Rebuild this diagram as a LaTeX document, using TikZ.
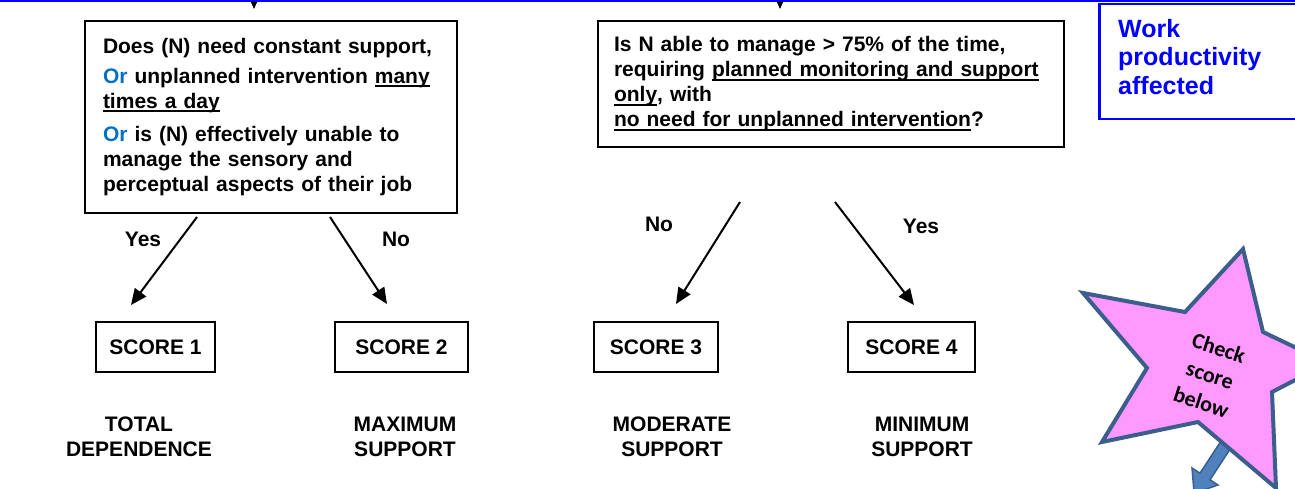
\documentclass[tikz,border=0pt]{standalone}
\usepackage{fontspec}
\setmainfont{Liberation Sans}
\newfontfamily\calibrifont{Carlito}
\usetikzlibrary{arrows.meta,calc}
\definecolor{orblue}{HTML}{0070C0}
\definecolor{starpink}{HTML}{FF99FF}
\definecolor{starline}{HTML}{3B5E8C}
\definecolor{arrowfill}{HTML}{4F81BD}
\definecolor{pureblue}{HTML}{0000FF}
% underline with a fixed offset below the baseline
\newcommand{\undl}[1]{\leavevmode\setbox0=\hbox{#1}\rlap{\rule[-3.6pt]{\wd0}{1.8pt}}\box0}
\newcommand{\orw}{\textcolor{orblue}{Or}}

\begin{document}
\begin{tikzpicture}[x=1pt,y=-1pt,
  txt/.style={font=\bfseries\fontsize{21}{25}\selectfont},
  qbox/.style={txt, draw, line width=2pt, align=left, anchor=north west},
  scorebox/.style={txt, draw, line width=2pt, minimum height=50pt, inner sep=0pt},
  lvl/.style={txt, align=center, inner sep=0pt},
  ans/.style={txt, inner sep=0pt},
  conn/.style={draw, line width=2pt, -{Triangle[length=16pt,width=14pt]}},
  tiny/.style={draw, line width=1pt, -{Triangle[length=7pt,width=6pt]}}
]
\useasboundingbox (0,0) rectangle (1295,489);

% header rule and the work productivity box
\draw[pureblue, line width=2pt] (0,1) -- (1295,1);
\node[draw=pureblue, line width=2.5pt, anchor=north west, minimum width=210pt,
      minimum height=115pt, inner sep=0pt] (wp) at (1098,3) {};
\node[anchor=north west, text=pureblue, align=left, inner sep=0pt,
      font=\bfseries\fontsize{25}{28.5}\selectfont] (wpt) at (1118,19)
  {Work\\productivity\\affected};

% arrow tips entering from above
\coordinate (ta1) at (254,1);
\coordinate (tb1) at (254,9);
\coordinate (ta2) at (780,1);
\coordinate (tb2) at (780,9);
\draw[tiny] (ta1) -- (tb1);
\draw[tiny] (ta2) -- (tb2);

% question boxes
\node[qbox, text width=336pt, inner xsep=18pt, minimum height=192pt] (q1) at (84,20)
  {Does (N) need constant support,\\[5pt]
   \orw{} unplanned intervention \undl{many}\\
   \undl{times a day}\\[8pt]
   \orw{} is (N) effectively unable to\\
   manage the sensory and\\
   perceptual aspects of their job};

\node[qbox, text width=434pt, inner xsep=16pt, minimum height=126pt] (q2) at (597,20)
  {Is N able to manage > 75\% of the time,\\
   requiring \undl{planned monitoring and support}\\
   \undl{only}, with\\
   \undl{no need for unplanned intervention}?};

% score boxes
\node[scorebox, minimum width=119pt] (s1) at (155.5,347) {SCORE 1};
\node[scorebox, minimum width=133pt] (s2) at (401.5,347) {SCORE 2};
\node[scorebox, minimum width=124pt] (s3) at (656,347) {SCORE 3};
\node[scorebox, minimum width=127pt] (s4) at (911.5,347) {SCORE 4};

% level names
\node[lvl] (l1) at (139,437) {TOTAL\\DEPENDENCE};
\node[lvl] (l2) at (405,437) {MAXIMUM\\SUPPORT};
\node[lvl] (l3) at (672,437) {MODERATE\\SUPPORT};
\node[lvl] (l4) at (922,437) {MINIMUM\\SUPPORT};

% decision connectors
\coordinate (c1a) at (197,217);
\coordinate (c1b) at (131,305);
\coordinate (c2a) at (330,217);
\coordinate (c2b) at (387,304);
\coordinate (c3a) at (740,202);
\coordinate (c3b) at (676,304);
\coordinate (c4a) at (835,202);
\coordinate (c4b) at (914,305);
\draw[conn] (c1a) -- (c1b);
\draw[conn] (c2a) -- (c2b);
\draw[conn] (c3a) -- (c3b);
\draw[conn] (c4a) -- (c4b);

\node[ans] (a1) at (143,239) {Yes};
\node[ans] (a2) at (396,239) {No};
\node[ans] (a3) at (659,224) {No};
\node[ans] (a4) at (921,226) {Yes};

% block arrow leaving the star
\begin{scope}
\clip (0,0) rectangle (1295,489);
\filldraw[fill=arrowfill, draw=starline, line width=1.5pt, line join=miter]
  (1232.8,423.0) -- (1200.0,473.2) -- (1192.0,468.0) -- (1194.1,493.2)
  -- (1218.0,485.0) -- (1210.0,479.8) -- (1242.8,429.6) -- cycle;
% star
\filldraw[fill=starpink, draw=starline, line width=4pt, line join=miter]
  (1243,249) -- (1263,332) -- (1328,363) -- (1272,392) -- (1276,488)
  -- (1198,422) -- (1102,442) -- (1147,368) -- (1083,293) -- (1185,312) -- cycle;
\end{scope}
\node[rotate=-18, align=center, inner sep=0pt,
      font=\calibrifont\bfseries\fontsize{22}{28.5}\selectfont] (chk) at (1210,375)
  {Check\\score\\below};
\end{tikzpicture}
\end{document}
